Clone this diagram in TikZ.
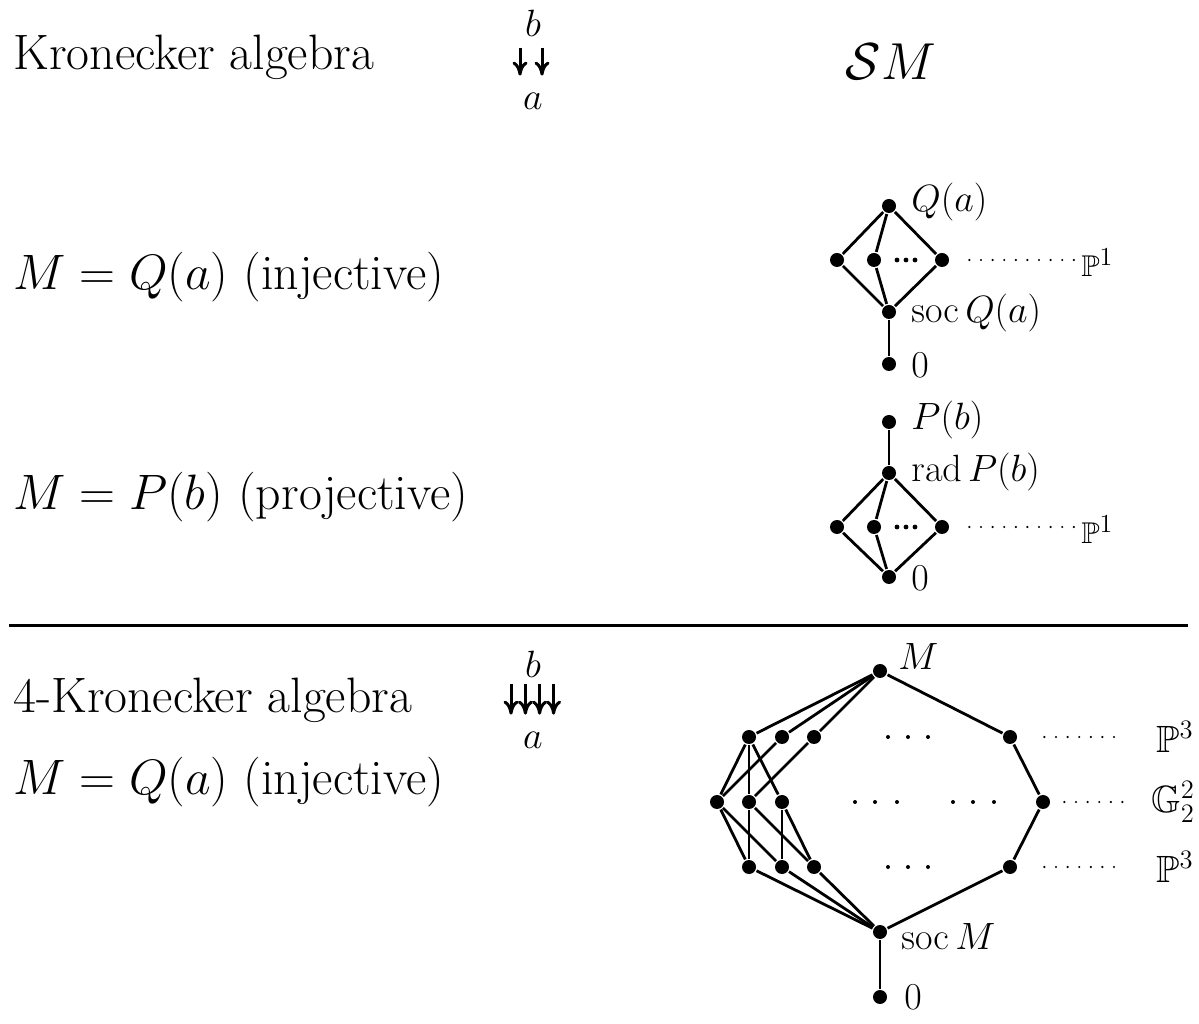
\RequirePackage{fix-cm}
\documentclass[tikz,border=0pt]{standalone}
\usepackage{amsmath}
\usepackage{amssymb}
\usepackage{tikz}
\usetikzlibrary{arrows.meta}

\begin{document}
\begin{tikzpicture}[x=5pt,y=5pt,line width=1.4pt,
  vtx/.style={circle,fill,inner sep=0pt,minimum size=7pt},
  lab/.style={font=\fontsize{19}{22}\selectfont,inner sep=2pt},
  plab/.style={font=\fontsize{15}{18}\selectfont,inner sep=2pt,anchor=west},
  big/.style={font=\fontsize{24.88}{30}\selectfont,anchor=base west,inner sep=0pt},
  dotline/.style={line width=1.2pt,line cap=round,dash pattern=on 0pt off 5.8pt},
  qarr/.style={line width=1.5pt,-{Computer Modern Rightarrow[width=7.5pt,length=7pt]}}]
\useasboundingbox (0,0) rectangle (119.9,102.3);

% left column
\node[big] (t1) at (1.2,95.3) {Kronecker algebra};
\node[big] (t2) at (1.2,73.3) {$M=Q(a)$ (injective)};
\node[big] (t3) at (1.2,51.3) {$M=P(b)$ (projective)};
\node[big] (t4) at (1.2,31.0) {4-Kronecker algebra};
\node[big] (t5) at (1.2,22.8) {$M=Q(a)$ (injective)};
\node[big,font=\fontsize{26}{30}\selectfont,anchor=base] (sm) at (89.1,94.3) {$\mathcal{S}M$};

% quivers
\node[lab] (kb) at (53.3,100.0) {$b$};
\node[lab] (ka) at (53.3,92.2) {$a$};
\draw[qarr,shorten <=3pt,shorten >=5.9pt] ([xshift=-6.5pt]kb.south) -- ([xshift=-6.5pt]ka.north);
\draw[qarr,shorten <=3pt,shorten >=5.9pt] ([xshift=4.5pt]kb.south) -- ([xshift=4.5pt]ka.north);

\node[lab] (fb) at (53.3,35.9) {$b$};
\node[lab] (fa) at (53.3,28.3) {$a$};
\draw[qarr,shorten <=0.5pt,shorten >=5.9pt] ([xshift=-11pt]fb.south) -- ([xshift=-11pt]fa.north);
\draw[qarr,shorten <=0.5pt,shorten >=5.9pt] ([xshift=-3.8pt]fb.south) -- ([xshift=-3.8pt]fa.north);
\draw[qarr,shorten <=0.5pt,shorten >=5.9pt] ([xshift=3.3pt]fb.south) -- ([xshift=3.3pt]fa.north);
\draw[qarr,shorten <=0.5pt,shorten >=5.9pt] ([xshift=10.3pt]fb.south) -- ([xshift=10.3pt]fa.north);

% rule
\coordinate (hl) at (0.9,39.7);
\coordinate (hr) at (118.8,39.7);
\draw[line width=1.5pt] (hl) -- (hr);

% S Q(a), Kronecker
\node[vtx] (qtop) at (88.9,81.7) {};
\node[vtx] (q1) at (83.7,76.3) {};
\node[vtx] (q2) at (87.4,76.3) {};
\node[vtx] (q3) at (94.2,76.3) {};
\node[vtx] (qsoc) at (88.9,71.1) {};
\node[vtx] (qzero) at (88.9,65.9) {};
\draw (qtop) -- (q1);
\draw (qtop) -- (q2);
\draw (qtop) -- (q3);
\draw (q1) -- (qsoc);
\draw (q2) -- (qsoc);
\draw (q3) -- (qsoc);
\draw (qsoc) -- (qzero);
\fill (89.7,76.3) circle (1.2pt) (90.6,76.3) circle (1.2pt) (91.5,76.3) circle (1.2pt);
\node[lab,anchor=west] (lqtop) at (90.6,82.1) {$Q(a)$};
\node[lab,anchor=west] (lqsoc) at (90.6,71.0) {$\operatorname{soc} Q(a)$};
\node[lab,anchor=west] (lqzero) at (90.6,65.8) {$0$};
\node[plab] (qp) at (107.6,76.1) {$\mathbb{P}^{\text{\fontsize{13}{13}\selectfont 1}}$};
\draw[dotline,shorten <=9.5pt] (q3) -- (q3 -| qp.west);

% S P(b), Kronecker
\node[vtx] (ptop) at (88.9,60.1) {};
\node[vtx] (prad) at (88.9,55.0) {};
\node[vtx] (p1) at (83.7,49.6) {};
\node[vtx] (p2) at (87.4,49.6) {};
\node[vtx] (p3) at (94.2,49.6) {};
\node[vtx] (pzero) at (88.9,44.6) {};
\draw (ptop) -- (prad);
\draw (prad) -- (p1);
\draw (prad) -- (p2);
\draw (prad) -- (p3);
\draw (p1) -- (pzero);
\draw (p2) -- (pzero);
\draw (p3) -- (pzero);
\fill (89.7,49.6) circle (1.2pt) (90.6,49.6) circle (1.2pt) (91.5,49.6) circle (1.2pt);
\node[lab,anchor=west] (lptop) at (90.6,60.3) {$P(b)$};
\node[lab,anchor=west] (lprad) at (90.6,55.1) {$\mathrm{rad}\,P(b)$};
\node[lab,anchor=west] (lpzero) at (90.6,44.5) {$0$};
\node[plab] (pp) at (107.6,49.4) {$\mathbb{P}^{\text{\fontsize{13}{13}\selectfont 1}}$};
\draw[dotline,shorten <=9.5pt] (p3) -- (p3 -| pp.west);

% S Q(a), 4-Kronecker
\node[vtx] (mtop) at (88.0,35.2) {};
\node[vtx] (a1) at (74.9,28.6) {};
\node[vtx] (a2) at (78.2,28.6) {};
\node[vtx] (a3) at (81.4,28.6) {};
\node[vtx] (ar) at (101.0,28.6) {};
\node[vtx] (b1) at (71.7,22.1) {};
\node[vtx] (b2) at (74.9,22.1) {};
\node[vtx] (b3) at (78.2,22.1) {};
\node[vtx] (br) at (104.3,22.1) {};
\node[vtx] (c1) at (74.9,15.6) {};
\node[vtx] (c2) at (78.2,15.6) {};
\node[vtx] (c3) at (81.4,15.6) {};
\node[vtx] (cr) at (101.0,15.6) {};
\node[vtx] (soc) at (88.0,9.1) {};
\node[vtx] (zero) at (88.0,2.6) {};
\draw (mtop) -- (a1);
\draw (mtop) -- (a2);
\draw (mtop) -- (a3);
\draw (mtop) -- (ar);
\draw (a1) -- (b1);
\draw (a1) -- (b2);
\draw (a1) -- (b3);
\draw (a2) -- (b1);
\draw (a3) -- (b2);
\draw (ar) -- (br);
\draw (b1) -- (c1);
\draw (b1) -- (c2);
\draw (b2) -- (c1);
\draw (b2) -- (c3);
\draw (b3) -- (c2);
\draw (b3) -- (c3);
\draw (br) -- (cr);
\draw (c1) -- (soc);
\draw (c2) -- (soc);
\draw (c3) -- (soc);
\draw (cr) -- (soc);
\draw (soc) -- (zero);
\fill (88.8,28.6) circle (1pt) (90.8,28.6) circle (1pt) (92.8,28.6) circle (1pt);
\fill (85.5,22.1) circle (1pt) (87.5,22.1) circle (1pt) (89.7,22.1) circle (1pt);
\fill (95.3,22.1) circle (1pt) (97.3,22.1) circle (1pt) (99.4,22.1) circle (1pt);
\fill (88.8,15.6) circle (1pt) (90.8,15.6) circle (1pt) (92.8,15.6) circle (1pt);
\node[lab,anchor=west] (lmtop) at (89.3,36.6) {$M$};
\node[lab,anchor=west] (lsoc) at (89.6,8.6) {$\operatorname{soc} M$};
\node[lab,anchor=west] (lzero) at (89.9,2.6) {$0$};
\node[lab,anchor=west] (pa) at (115.1,28.6) {$\mathbb{P}^3$};
\node[lab,anchor=west] (gb) at (114.6,22.1) {$\mathbb{G}^2_2$};
\node[lab,anchor=west] (pc) at (115.1,15.6) {$\mathbb{P}^3$};
\draw[dotline,shorten <=13pt,shorten >=14.5pt] (ar) -- (ar -| pa.west);
\draw[dotline,shorten <=6.5pt,shorten >=9pt] (br) -- (br -| gb.west);
\draw[dotline,shorten <=13pt,shorten >=14.5pt] (cr) -- (cr -| pc.west);
\end{tikzpicture}
\end{document}
